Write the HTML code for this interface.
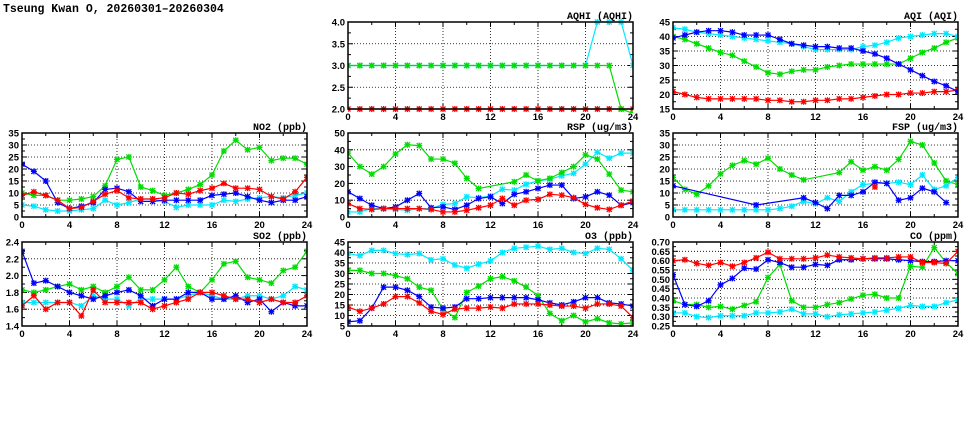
<!DOCTYPE html>
<html><head><meta charset="utf-8">
<style>
html,body{margin:0;padding:0;background:#fff;}
svg{display:block;}
.tl{font-family:"Liberation Sans",sans-serif;font-weight:bold;font-size:9.5px;fill:#000;}
.pt{font-family:"Liberation Mono",monospace;font-weight:bold;font-size:10px;fill:#000;}
.hd{font-family:"Liberation Mono",monospace;font-weight:bold;font-size:11.5px;fill:#000;}
</style></head>
<body>
<svg id="c" width="975" height="447" viewBox="0 0 975 447">
<text class="hd" x="3" y="12">Tseung Kwan O, 20260301–20260304</text>
</svg>
<script>
const hours = [0,1,2,3,4,5,6,7,8,9,10,11,12,13,14,15,16,17,18,19,20,21,22,23,24];
const xTicks = [0,4,8,12,16,20,24];
const N = null;
// AQHI
const aqhiRed   = [2,2,2,2,2,2,2,2,2,2,2,2,2,2,2,2,2,2,2,2,2,2,2,2,2];
const aqhiGreen = [3,3,3,3,3,3,3,3,3,3,3,3,3,3,3,3,3,3,3,3,3,3,3,2,1.9];
const aqhiCyan  = [3,3,3,3,3,3,3,3,3,3,3,3,3,3,3,3,3,3,3,3,3,4,4,4,3];
const aqhiTicks = [2.0,2.5,3.0,3.5,4.0];
// AQI
const aqiCyan  = [43,42.5,41.5,41,40.5,40,39.5,39,38.5,38,37.5,36.5,35.5,35.5,35.5,35.5,36.5,37,38,39.5,40,40.5,41,41,40];
const aqiBlue  = [39.5,40.5,41.5,42,42,41.5,40.5,40.5,40.5,39,37.5,37,36.5,36.5,36,36,35,34,32.5,30.5,28.5,26.5,24.5,23,21];
const aqiGreen = [40,39,37.5,36,34.5,33.5,31.5,29.5,27.5,27,28,28.5,28.5,29.5,30,30.5,30.5,30.5,30.5,30.5,32.5,34.5,36,38,39.5];
const aqiRed   = [21,20,19,18.5,18.5,18.5,18.5,18.5,18,18,17.5,17.5,18,18,18.5,18.5,19,19.5,20,20,20.5,20.5,21,21,21.5];
const aqiTicks = [15,20,25,30,35,40,45];
// NO2
const no2Green = [10,9,9,7,7,7.5,8.5,13,24,25,12.5,11,9,10,11.5,13.5,17.5,27.5,32,28,29,23.5,24.5,24.5,22];
const no2Red   = [9,10.5,9,7,3.5,4,6.5,9.5,11,8,7.5,7.5,8,10,9.5,11,12,14,12,12,11.5,8.5,7.5,10.5,16.5];
const no2Blue  = [22,19,15,6,3.5,4.5,6,11.5,12,10.5,6.5,6.5,7,7,7,7,9,9.5,10,8.5,7,6,7,7,8.5];
const no2Cyan  = [5,4.5,3,2.5,2.5,3,3.5,7,5,6,7.5,7.5,6.5,4,5,5,5,7,6.5,7.5,8,8.5,8,9,10];
const no2Ticks = [0,5,10,15,20,25,30,35];
// RSP
const rspGreen = [38,30,25.5,30,37.5,43,42.5,34.5,34.5,32,23,17,N,N,21,25,21.5,23,26.5,30,37,34.5,25.5,16,15];
const rspCyan  = [3,3,5,5,4.5,4,5,5,7.5,8,12,11.5,12.5,16.5,16,19.5,21.5,22.5,24.5,26,31.5,38.5,35,38,38];
const rspBlue  = [15,11,7,5,6,10,14,5.5,6,4.5,7,11,12,8,13.5,15,17,19,19,11,12,15,13,7,8.5];
const rspRed   = [8,5,4.5,5,5,5,5,4.5,3,3,4,5.5,7,11,7,10,10.5,13.5,13,11.5,7.5,5.5,4.5,7,9.5];
const rspTicks = [0,10,20,30,40,50];
// FSP
const fspGreen = [16.5,11.5,9.5,13,18,21.5,23.5,22,24.5,20,17.5,15.5,N,N,18.5,23,19.5,21,19.5,24,31.5,30,22.5,15,13.5];
const fspCyan  = [3,3,3,3,3,3,3,3,3,3.5,4.5,6.5,5.5,8,6.5,10.5,13.5,14,14,14.5,13.5,17.5,11.5,13,16.5];
const fspBlue  = [13,N,N,N,N,N,N,5,N,N,N,8,6,3.5,9,9,10.5,14.5,14,7,8,12,10.5,6,N];
const fspRed   = [N,N,N,N,N,N,N,N,N,N,N,N,N,N,N,N,N,12.5,N,N,N,N,N,N,N];
const fspTicks = [0,5,10,15,20,25,30,35];
// SO2
const so2Green = [1.83,1.80,1.83,1.87,1.90,1.83,1.87,1.80,1.87,1.98,1.83,1.83,1.95,2.10,1.87,1.80,1.95,2.14,2.17,1.98,1.95,1.91,2.06,2.10,2.29];
const so2Blue  = [2.29,1.91,1.94,1.87,1.80,1.76,1.72,1.76,1.80,1.83,1.76,1.64,1.72,1.72,1.80,1.80,1.72,1.72,1.76,1.68,1.72,1.57,1.68,1.64,1.64];
const so2Red   = [1.64,1.76,1.60,1.68,1.68,1.52,1.83,1.68,1.68,1.68,1.68,1.60,1.64,1.68,1.72,1.80,1.80,1.76,1.72,1.72,1.68,1.72,1.68,1.68,1.76];
const so2Cyan  = [1.68,1.68,1.68,1.68,1.68,1.64,1.76,1.72,1.72,1.64,1.72,1.72,1.72,1.72,1.76,1.80,1.76,1.72,1.72,1.76,1.76,1.72,1.76,1.87,1.83];
const so2Ticks = [1.4,1.6,1.8,2.0,2.2,2.4];
// O3
const o3Cyan  = [39.5,38.5,41,41,39.5,39,39.5,36.5,37,34,32.5,34.5,36,40,42,42.5,43,41.5,42,40,39.5,42,41.5,37,31.5];
const o3Green = [31.5,31.5,30,30,29,27.5,23.5,22,13,9,21,24,27.5,28.5,26.5,23.5,19.5,11,7.5,10,7,8.5,6.5,6,6.5];
const o3Blue  = [7,7.5,13.5,23.5,23.5,22,19,14,13.5,14,18,18,18.5,18.5,18.5,18.5,17.5,16,15,16.5,18.5,18.5,16,15.5,14.5];
const o3Red   = [14,12,13.5,15.5,19,19,16,12,10.5,13,13.5,13.5,14,13.5,15.5,15.5,15.5,15,14.5,14.5,13.5,15.5,15.5,14.5,9];
const o3Ticks = [5,10,15,20,25,30,35,40,45];
// CO
const coRed   = [.60,.605,.585,.575,.59,.57,.59,.615,.645,.61,.61,.61,.615,.63,.62,.615,.61,.615,.615,.62,.62,.59,.59,.585,.65];
const coBlue  = [.525,.365,.355,.385,.47,.505,.56,.555,.605,.59,.565,.565,.58,.575,.605,.605,.61,.61,.61,.605,.60,.595,.595,.60,.60];
const coGreen = [.385,.365,.365,.35,.355,.34,.36,.38,.51,.58,.385,.35,.35,.365,.375,.395,.415,.42,.40,.40,.57,.565,.67,.59,.53];
const coCyan  = [.32,.32,.30,.295,.305,.305,.305,.32,.32,.325,.34,.315,.315,.30,.31,.315,.32,.325,.335,.345,.36,.355,.355,.375,.39];
const coTicks = [0.25,0.30,0.35,0.40,0.45,0.50,0.55,0.60,0.65,0.70];

const C = {red:'#ff0000',green:'#00dd00',blue:'#0000ff',cyan:'#00e8ff'};
const svg = document.getElementById('c');
const NS='http://www.w3.org/2000/svg';
function mk(tag, attrs, parent){const e=document.createElementNS(NS,tag);for(const k in attrs)e.setAttribute(k,attrs[k]);(parent||svg).appendChild(e);return e;}

function panel(name, title, x0, y0, w, h, ticks, dec, series){
  const g = mk('g',{});
  
  
  const ymin=ticks[0], ymax=ticks[ticks.length-1];
  const sx = v => x0 + (v-0)/24*w;
  const sy = v => y0 + h - (v-ymin)/(ymax-ymin)*h;
  // grid
  xTicks.forEach(t=>{ if(t>0&&t<24){ const l=mk('line',{x1:sx(t),x2:sx(t),y1:y0,y2:y0+h,stroke:'#000','stroke-width':0.8,'stroke-dasharray':'1,2'},g);   }});
  ticks.forEach(t=>{ if(t>ymin&&t<ymax){ const l=mk('line',{x1:x0,x2:x0+w,y1:sy(t),y2:sy(t),stroke:'#000','stroke-width':0.8,'stroke-dasharray':'1,2'},g);   }});
  // ticks
  for(let t=0;t<=24;t+=2){ const len = t%4===0?5:3; mk('line',{x1:sx(t),x2:sx(t),y1:y0+h,y2:y0+h-len,stroke:'#000','stroke-width':1},g); mk('line',{x1:sx(t),x2:sx(t),y1:y0,y2:y0+len,stroke:'#000','stroke-width':1},g);}
  for(let i=0;i<ticks.length;i++){ const yy=sy(ticks[i]); mk('line',{x1:x0,x2:x0+5,y1:yy,y2:yy,stroke:'#000'},g); mk('line',{x1:x0+w,x2:x0+w-5,y1:yy,y2:yy,stroke:'#000'},g);
    if(i<ticks.length-1){const ym=sy((ticks[i]+ticks[i+1])/2); mk('line',{x1:x0,x2:x0+3,y1:ym,y2:ym,stroke:'#000'},g); mk('line',{x1:x0+w,x2:x0+w-3,y1:ym,y2:ym,stroke:'#000'},g);}
    const tx=mk('text',{x:x0-3,y:yy+3.5,'text-anchor':'end',class:'tl'},g); tx.textContent=ticks[i].toFixed(dec);
     
  }
  xTicks.forEach(t=>{ const tx=mk('text',{x:sx(t),y:y0+h+11,'text-anchor':'middle',class:'tl'},g); tx.textContent=t;
      });
  // clip
  const cid='clip-'+name;
  const cp=mk('clipPath',{id:cid},g); mk('rect',{x:x0,y:y0-4,width:w,height:h+8},cp);
  const sg=mk('g',{'clip-path':'url(#'+cid+')'},g);
  series.forEach(([col,vals])=>{
    const pts=[]; vals.forEach((v,i)=>{ if(v!==null) pts.push([sx(hours[i]),sy(v)]); });
    const pl=mk('polyline',{points:pts.map(p=>p.join(',')).join(' '),fill:'none',stroke:C[col],'stroke-width':1.2},sg);
    
    
    pts.forEach(p=>{ const m=mk('path',{d:`M${p[0]-3},${p[1]}h6M${p[0]},${p[1]-3}v6M${p[0]-2.5},${p[1]-2.5}l5,5M${p[0]-2.5},${p[1]+2.5}l5,-5`,stroke:C[col],'stroke-width':1.3,fill:'none'},sg);
        });
  });
  mk('rect',{x:x0,y:y0,width:w,height:h,fill:'none',stroke:'#000','stroke-width':1.5},g);
  const tt=mk('text',{x:x0+w,y:y0-3,'text-anchor':'end',class:'pt'},g); tt.textContent=title;
   
}
const W=285;
panel('aqhi','AQHI (AQHI)',348,22,W,87,aqhiTicks,1,[['red',aqhiRed],['cyan',aqhiCyan],['green',aqhiGreen]]);
panel('aqi','AQI (AQI)',673,22,W,87,aqiTicks,0,[['red',aqiRed],['green',aqiGreen],['cyan',aqiCyan],['blue',aqiBlue]]);
panel('no2','NO2 (ppb)',22,133,W,84,no2Ticks,0,[['cyan',no2Cyan],['green',no2Green],['blue',no2Blue],['red',no2Red]]);
panel('rsp','RSP (ug/m3)',348,133,W,84,rspTicks,0,[['cyan',rspCyan],['green',rspGreen],['blue',rspBlue],['red',rspRed]]);
panel('fsp','FSP (ug/m3)',673,133,W,84,fspTicks,0,[['green',fspGreen],['cyan',fspCyan],['blue',fspBlue],['red',fspRed]]);
panel('so2','SO2 (ppb)',22,242,W,84,so2Ticks,1,[['cyan',so2Cyan],['green',so2Green],['blue',so2Blue],['red',so2Red]]);
panel('o3','O3 (ppb)',348,242,W,84,o3Ticks,0,[['cyan',o3Cyan],['green',o3Green],['blue',o3Blue],['red',o3Red]]);
panel('co','CO (ppm)',673,242,W,84,coTicks,2,[['cyan',coCyan],['green',coGreen],['blue',coBlue],['red',coRed]]);
</script>
</body></html>
